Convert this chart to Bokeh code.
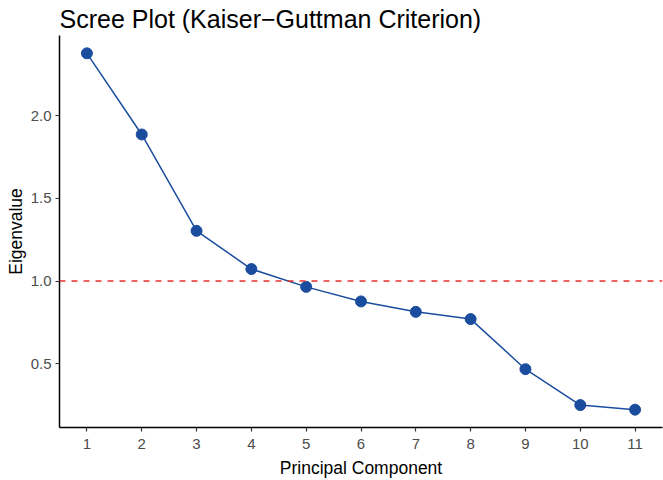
from bokeh.plotting import figure
from bokeh.models import FixedTicker, Span, ColumnDataSource
from bokeh.embed import file_html
from bokeh.resources import INLINE

components = [1, 2, 3, 4, 5, 6, 7, 8, 9, 10, 11]
eigenvalues = [2.378, 1.887, 1.304, 1.073, 0.965, 0.877, 0.814, 0.770, 0.467, 0.250, 0.222]
x_ticks = [1, 2, 3, 4, 5, 6, 7, 8, 9, 10, 11]
y_ticks = [0.5, 1.0, 1.5, 2.0]
y_tick_labels = ["0.5", "1.0", "1.5", "2.0"]
kaiser_threshold = 1.0

title_text = "Scree Plot (Kaiser\u2212Guttman Criterion)"
x_title = "Principal Component"
y_title = "Eigenvalue"

blue = "#1B4D9E"
red = "#E8312F"
FONT = "Liberation Sans"

ymin, ymax = min(eigenvalues), max(eigenvalues)
yr = ymax - ymin
xmin, xmax = min(components), max(components)
xr = xmax - xmin

p = figure(width=663, height=480, output_backend="svg", toolbar_location=None,
           x_range=(xmin - 0.05 * xr, xmax + 0.05 * xr),
           y_range=(ymin - 0.05 * yr, ymax + 0.05 * yr),
           min_border_left=59, min_border_right=1, min_border_top=35, min_border_bottom=52,
           background_fill_color="white", border_fill_color="white")

p.outline_line_color = None
p.grid.visible = False

p.title.text = title_text
p.title.text_font = FONT
p.title.text_font_size = "25px"
p.title.text_font_style = "normal"
p.title.text_color = "black"
p.title.align = "left"
p.title.standoff = 5

src = ColumnDataSource(dict(x=components, y=eigenvalues))

p.add_layout(Span(location=kaiser_threshold, dimension="width", line_color=red,
                  line_dash="6 6", line_width=1.5))
p.line("x", "y", source=src, line_color=blue, line_width=1.5)
p.scatter("x", "y", source=src, size=11, fill_color=blue, line_color=blue)

for ax in (p.xaxis[0], p.yaxis[0]):
    ax.axis_line_color = "black"
    ax.axis_line_width = 1.5
    ax.major_tick_line_color = "#333333"
    ax.major_tick_line_width = 1.2
    ax.major_tick_out = 4
    ax.major_tick_in = 0
    ax.minor_tick_line_color = None
    ax.major_label_text_font = FONT
    ax.major_label_text_font_size = "15px"
    ax.major_label_text_color = "#4D4D4D"
    ax.axis_label_text_font = FONT
    ax.axis_label_text_font_size = "17.5px"
    ax.axis_label_text_font_style = "normal"
    ax.axis_label_text_color = "black"

p.xaxis.ticker = FixedTicker(ticks=x_ticks)
p.yaxis.ticker = FixedTicker(ticks=y_ticks)
p.yaxis.major_label_overrides = {t: l for t, l in zip(y_ticks, y_tick_labels)}
p.xaxis.axis_label = x_title
p.yaxis.axis_label = y_title
p.xaxis.major_label_standoff = 7
p.yaxis.major_label_standoff = 4
p.xaxis.axis_label_standoff = 6
p.yaxis.axis_label_standoff = 2

open("out.html", "w").write(file_html(p, INLINE))
